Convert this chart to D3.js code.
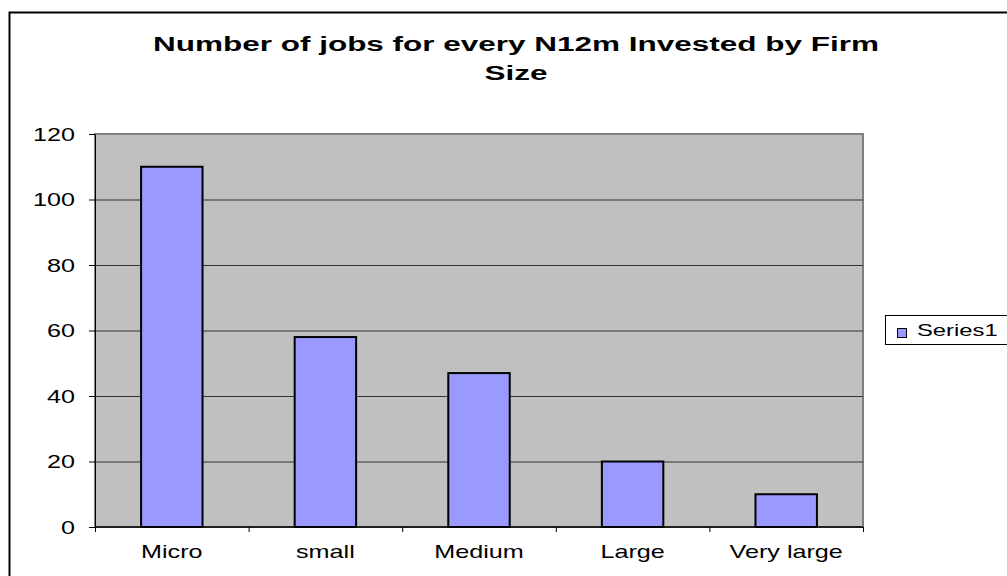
<!DOCTYPE html>
<html>
<head>
<meta charset="utf-8">
<script src="https://cdnjs.cloudflare.com/ajax/libs/d3/7.8.5/d3.min.js"></script>
<style>
  body { margin: 0; background: #fff; }
  svg { display: block; font-family: 'Liberation Sans', Arial, sans-serif; }
</style>
</head>
<body>
<div id="graf"></div>
<script>
const categorias = ['Micro', 'small', 'Medium', 'Large', 'Very large']
const valores = [110, 58, 47, 20, 10]
const ticksY = [0, 20, 40, 60, 80, 100, 120]
const titulo = ['Number of jobs for every N12m Invested by Firm', 'Size']
const serie = 'Series1'

const anchoTotal = 1007
const altoTotal = 576
// el texto del original sale estirado a lo ancho
const estira = 1.4

const svg = d3.select('#graf')
  .append('svg')
  .attr('width', anchoTotal)
  .attr('height', altoTotal)

// marco exterior
svg.append('rect')
  .attr('x', 9.5)
  .attr('y', 12.5)
  .attr('width', 1020)
  .attr('height', 600)
  .attr('fill', 'none')
  .attr('stroke', '#000')
  .attr('stroke-width', 2)

const margin = { top: 134, left: 95 }
const ancho = 768
const alto = 393

const g = svg.append('g')
  .attr('transform', `translate(${margin.left}, ${margin.top})`)

const y = d3.scaleLinear()
  .domain([0, 120])
  .range([alto, 0])

const x = d3.scaleBand()
  .domain(categorias)
  .range([0, ancho])
  .paddingInner(0.6)
  .paddingOuter(0.3)

// fondo del area
g.append('rect')
  .attr('width', ancho)
  .attr('height', alto)
  .attr('fill', '#c0c0c0')
  .attr('stroke', '#808080')
  .attr('stroke-width', 2)

// grid
g.selectAll('.grid')
  .data(ticksY.filter(d => d > 0 && d < 120))
  .enter()
  .append('line')
  .attr('x1', 0)
  .attr('x2', ancho)
  .attr('y1', d => y(d) + 0.5)
  .attr('y2', d => y(d) + 0.5)
  .attr('stroke', '#333')
  .attr('stroke-width', 1)

// eje y
const yAxis = g.append('g')
  .call(d3.axisLeft(y).tickValues(ticksY).tickSize(6))
yAxis.select('.domain').attr('stroke', '#000')
yAxis.selectAll('line').attr('stroke', '#000')
yAxis.selectAll('text')
  .attr('x', 0)
  .attr('dy', '0.35em')
  .attr('transform', `translate(-20, 0) scale(${estira}, 1)`)
  .attr('font-size', 18)
  .attr('fill', '#000')
  .attr('font-family', 'Liberation Sans, Arial, sans-serif')

// barras
g.selectAll('.barra')
  .data(valores)
  .enter()
  .append('rect')
  .attr('x', (d, i) => x(categorias[i]))
  .attr('y', d => y(d))
  .attr('width', x.bandwidth())
  .attr('height', d => alto - y(d))
  .attr('fill', '#9999ff')
  .attr('stroke', '#000')
  .attr('stroke-width', 2)

// eje x
const paso = x.step()
const xAxis = g.append('g')
  .attr('transform', `translate(0, ${alto})`)
xAxis.append('line')
  .attr('x1', 0)
  .attr('x2', ancho)
  .attr('stroke', '#000')
  .attr('stroke-width', 1.5)
xAxis.selectAll('.tick')
  .data(d3.range(categorias.length + 1))
  .enter()
  .append('line')
  .attr('x1', i => i * paso + 0.5)
  .attr('x2', i => i * paso + 0.5)
  .attr('y1', 0)
  .attr('y2', 5)
  .attr('stroke', '#000')
xAxis.selectAll('.lbl')
  .data(categorias)
  .enter()
  .append('text')
  .attr('transform', d => `translate(${x(d) + x.bandwidth() / 2}, 31) scale(${estira}, 1)`)
  .attr('text-anchor', 'middle')
  .attr('font-size', 18)
  .text(d => d)

// titulo
svg.selectAll('.titulo')
  .data(titulo)
  .enter()
  .append('text')
  .attr('transform', (d, i) => `translate(516, ${51 + i * 29}) scale(1.5, 1)`)
  .attr('text-anchor', 'middle')
  .attr('font-size', 21)
  .attr('font-weight', 'bold')
  .text(d => d)

// leyenda
const ley = svg.append('g').attr('transform', 'translate(885, 315)')
ley.append('rect')
  .attr('x', 0.5)
  .attr('y', 0.5)
  .attr('width', 125)
  .attr('height', 29)
  .attr('fill', '#fff')
  .attr('stroke', '#000')
ley.append('rect')
  .attr('x', 12.5)
  .attr('y', 13.5)
  .attr('width', 9)
  .attr('height', 9)
  .attr('fill', '#9999ff')
  .attr('stroke', '#000')
ley.append('text')
  .attr('transform', `translate(32, 21) scale(${estira}, 1)`)
  .attr('font-size', 17)
  .text(serie)
</script>
</body>
</html>
